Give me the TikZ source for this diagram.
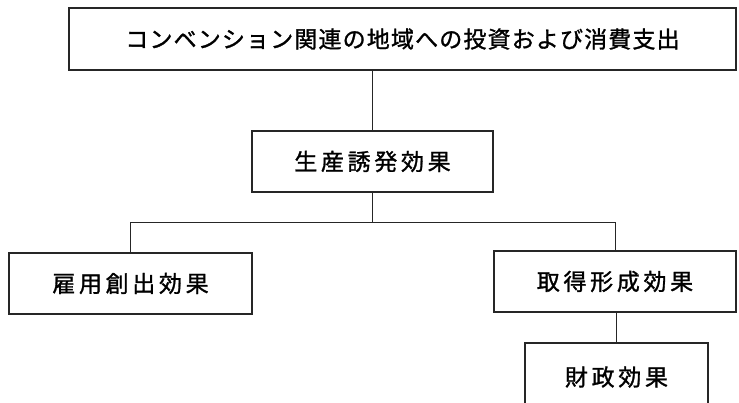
\documentclass[tikz,border=0pt]{standalone}
\usepackage{fontspec}
\newfontfamily\cjktop[LetterSpace=5,FakeBold=1.2]{Noto Sans CJK JP}
\newfontfamily\cjkbox[LetterSpace=16,FakeBold=1.2]{Noto Sans CJK JP}
\begin{document}
\begin{tikzpicture}[x=1pt,y=-1pt,
  box/.style={draw=black!85, line width=1.1pt, rectangle, inner sep=0pt, align=center},
  lbl/.style={font=\cjkbox\fontsize{23}{27}\selectfont},
  conn/.style={draw=black!85, line width=0.9pt}]
\useasboundingbox (0,0) rectangle (739,403);
\clip (0,0) rectangle (739,403);
\node[box, minimum width=667pt, minimum height=62pt, font=\cjktop\fontsize{23}{27}\selectfont] (top) at (402.5,39) {コンベンション関連の地域への投資および消費支出};
\node[box, lbl, minimum width=241pt, minimum height=61pt] (mid) at (372.5,161.5) {生産誘発効果};
\node[box, lbl, minimum width=243pt, minimum height=61pt] (left) at (130.5,283.5) {雇用創出効果};
\node[box, lbl, minimum width=242pt, minimum height=61pt] (right) at (615,281.5) {取得形成効果};
\node[box, lbl, minimum width=183pt, minimum height=68pt] (bot) at (616.5,377) {財政効果};
\coordinate (j) at (372.5,222);
\draw[conn] (top.south -| mid.north) -- (mid.north);
\draw[conn] (mid.south) -- (j);
\draw[conn] (left.north) -- (left.north |- j) -- (right.north |- j) -- (right.north);
\draw[conn] (right.south -| bot.north) -- (bot.north);
\end{tikzpicture}
\end{document}
